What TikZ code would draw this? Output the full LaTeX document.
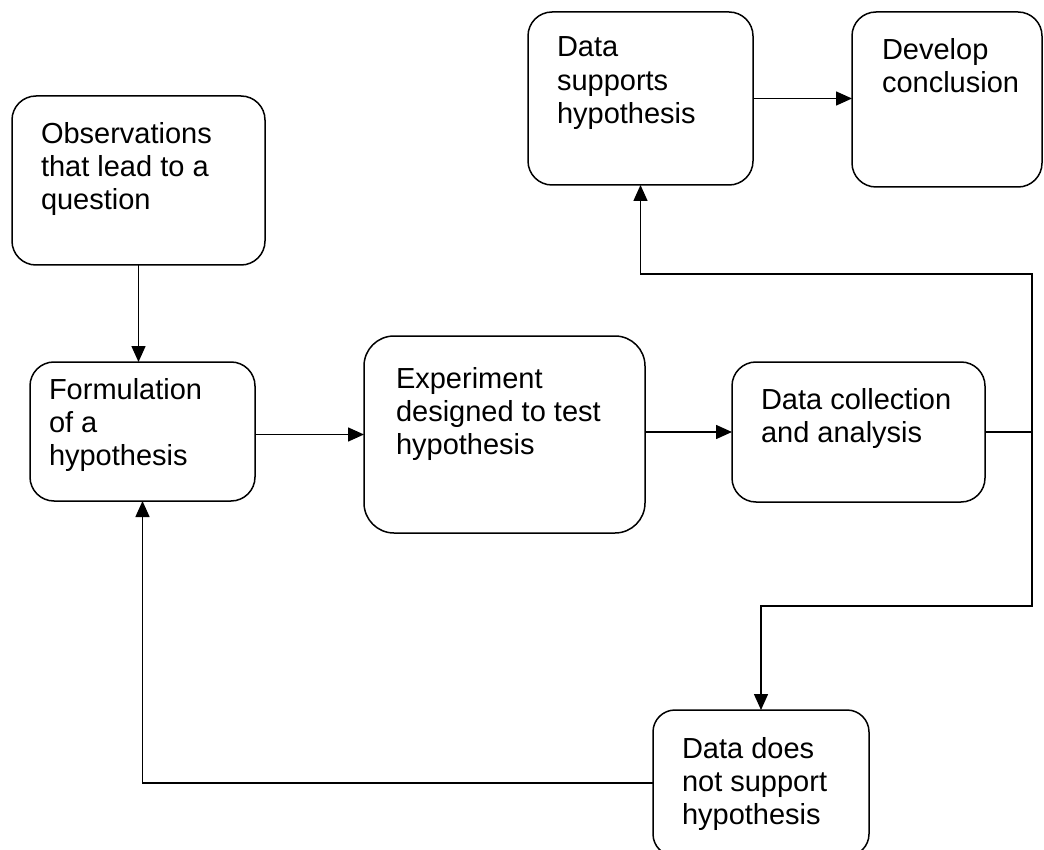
\documentclass[tikz,border=0pt]{standalone}
\usepackage{fontspec}
\setmainfont{Liberation Sans}
\usetikzlibrary{arrows.meta}
\begin{document}
\begin{tikzpicture}[x=1pt,y=-1pt,
  box/.style={draw=black, line width=1.5pt, inner sep=0pt, outer sep=0pt, rounded corners=24pt},
  txt/.style={anchor=north west, inner sep=0pt, outer sep=0pt, align=left,
    font=\fontsize{29pt}{33.2pt}\selectfont},
  conn/.style={draw=black, line width=1.5pt},
  arr/.style={conn, -{Triangle[length=16pt,width=14pt]}}]
\useasboundingbox[fill=white] (0,0) rectangle (1044,850);
% boxes
\node[box, minimum width=253pt, minimum height=169pt] (obs) at (138.5,180.5) {};
\node[box, minimum width=225pt, minimum height=139pt] (form) at (142.5,431.5) {};
\node[box, minimum width=281pt, minimum height=197pt, rounded corners=30pt] (exp) at (504.5,434.5) {};
\node[box, minimum width=253pt, minimum height=140pt] (coll) at (858.5,432) {};
\node[box, minimum width=225pt, minimum height=173pt] (sup) at (640.5,98.5) {};
\node[box, minimum width=190pt, minimum height=175pt] (dev) at (947,99.5) {};
\node[box, minimum width=216pt, minimum height=146pt, rounded corners=22pt] (not) at (761,783) {};
% texts
\node[txt] (obst) at (41,122) {Observations\\that lead to a\\question};
\node[txt] (formt) at (49,378) {Formulation\\of a\\hypothesis};
\node[txt] (expt) at (396,367) {Experiment\\designed to test\\hypothesis};
\node[txt] (collt) at (761,388) {Data collection\\and analysis};
\node[txt] (supt) at (557,37) {Data\\supports\\hypothesis};
\node[txt] (devt) at (882,38) {Develop\\conclusion};
\node[txt] (nott) at (682,737) {Data does\\not support\\hypothesis};
% junctions
\coordinate (ju) at (1032,274);
\coordinate (jd) at (1032,606);
% connectors
\draw[arr] (obs.south) -- (obs.south |- form.north);
\draw[arr] (form.east |- exp.center) -- (exp.west);
\draw[arr] (exp.east |- coll.center) -- (coll.west);
\draw[arr] (sup.east) -- (sup.east -| dev.west);
\draw[arr] (coll.east) -| (ju) -| (sup.south);
\draw[arr] (coll.east) -| (jd) -| (not.north);
\draw[arr] (not.west) -| (form.south);
\end{tikzpicture}
\end{document}
